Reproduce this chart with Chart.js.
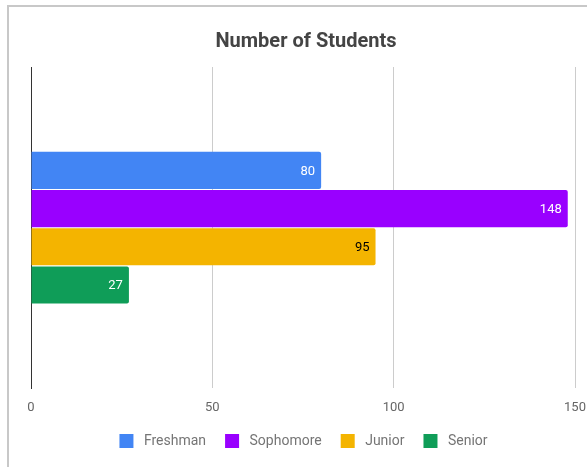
<!DOCTYPE html>
<html>
<head>
<meta charset="utf-8">
<script src="https://cdn.jsdelivr.net/npm/chart.js@4.4.1/dist/chart.umd.min.js"></script>
<style>
  html, body { margin: 0; padding: 0; background: #fff; overflow: hidden; }
  .frame {
    position: absolute; left: 7px; top: 5px;
    width: 700px; height: 600px;
    border-left: 2px solid #c8c8c8; border-top: 2px solid #c8c8c8;
  }
  .wrap { position: absolute; left: 0; top: 0; width: 587px; height: 467px; }
</style>
</head>
<body>
<div class="frame"></div>
<div class="wrap"><canvas id="studentsChart"></canvas></div>
<script>
// data
const classLevels = ['Freshman', 'Sophomore', 'Junior', 'Senior'];
const studentCounts = [80, 148, 95, 27];
const levelColors = ['#4285F4', '#9900FF', '#F4B400', '#0F9D58'];
const labelColors = ['#ffffff', '#ffffff', '#000000', '#ffffff'];
const xTicks = [0, 50, 100, 150];

// value labels at the end of each bar
const barValueLabels = {
    id: 'barValueLabels',
    afterDatasetsDraw(chart) {
        const ctx = chart.ctx;
        ctx.save();
        ctx.font = '13px Roboto';
        ctx.textAlign = 'right';
        ctx.textBaseline = 'middle';
        chart.data.datasets.forEach((ds, i) => {
            const meta = chart.getDatasetMeta(i);
            meta.data.forEach((bar, j) => {
                ctx.fillStyle = labelColors[i];
                ctx.fillText(String(ds.data[j]), bar.x - 6, bar.y + 1);
            });
        });
        ctx.restore();
    }
};

const chartEl = document.getElementById('studentsChart');

new Chart(chartEl, {
    type: 'bar',
    data: {
        labels: [''],
        datasets: classLevels.map((name, i) => ({
            label: name,
            data: [studentCounts[i]],
            backgroundColor: levelColors[i],
            borderWidth: 0,
            borderRadius: 2,
            borderSkipped: 'start',
            barPercentage: 0.97,
            categoryPercentage: 0.476
        }))
    },
    options: {
        indexAxis: 'y',
        responsive: true,
        maintainAspectRatio: false,
        animation: false,
        layout: {
            padding: { left: 23, right: 3, top: 0, bottom: 9 }
        },
        scales: {
            x: {
                min: 0,
                max: 150,
                afterBuildTicks: (axis) => {
                    axis.ticks = xTicks.map(v => ({ value: v }));
                },
                // pull the legend up closer to the tick labels, keep the plot edge at 150 fixed
                afterFit: (axis) => {
                    axis.height -= 13;
                    axis.paddingLeft = 0;
                    axis.paddingRight = 12;
                },
                grid: { color: '#cccccc', drawTicks: false },
                border: { display: false },
                ticks: {
                    color: '#666666',
                    font: { family: 'Roboto', size: 13 },
                    padding: 12
                }
            },
            y: {
                grid: { display: false },
                border: { display: true, color: '#333333', width: 1 },
                ticks: { display: false }
            }
        },
        plugins: {
            title: {
                display: true,
                text: ' Number of Students',
                color: '#444444',
                font: { family: 'Roboto', size: 20, weight: 'bold' },
                padding: { top: 30, bottom: 13 }
            },
            legend: {
                position: 'bottom',
                labels: {
                    color: '#757575',
                    font: { family: 'Roboto', size: 14 },
                    boxWidth: 14,
                    boxHeight: 14,
                    padding: 19,
                    generateLabels: (chart) => {
                        const items = Chart.defaults.plugins.legend.labels.generateLabels(chart);
                        items.forEach(it => { it.text = ' ' + it.text; it.lineWidth = 0; });
                        return items;
                    }
                }
            },
            tooltip: { enabled: false }
        }
    },
    plugins: [barValueLabels]
});
</script>
</body>
</html>
